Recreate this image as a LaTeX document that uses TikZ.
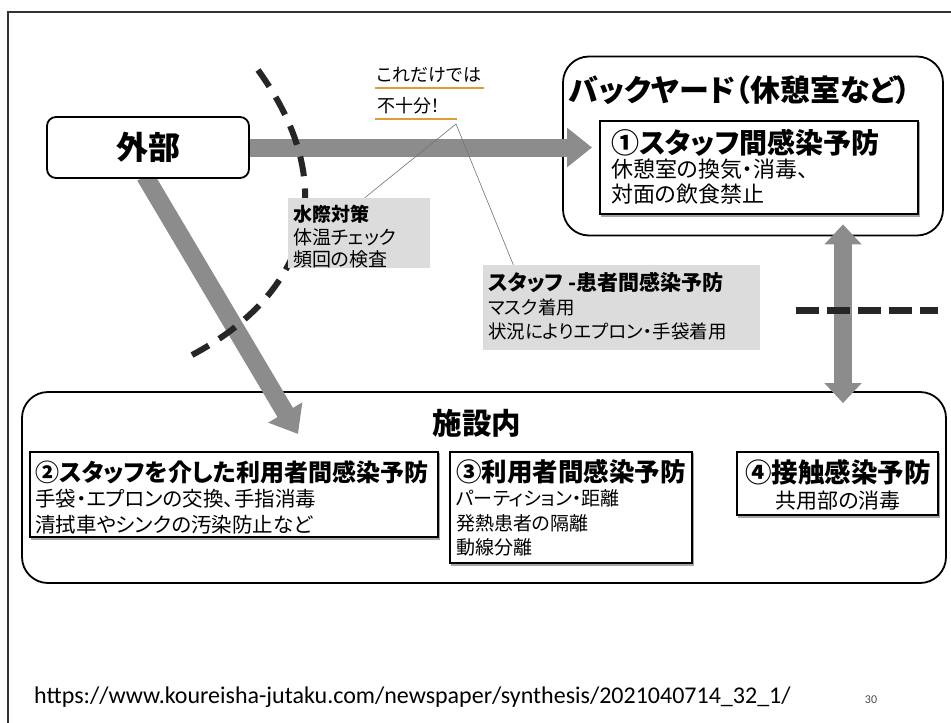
\documentclass[tikz,border=0pt]{standalone}
\usepackage{fontspec}
\setmainfont{Noto Sans CJK JP}[RawFeature=+palt]
\newfontfamily\urlfont{Carlito}
\usetikzlibrary{arrows.meta,calc}
\definecolor{arrowgrey}{HTML}{8C8C8C}
\definecolor{notegrey}{HTML}{DCDCDC}
\definecolor{uline}{HTML}{E09A3C}
\newcommand\fsz[2]{\fontsize{#1}{#2}\selectfont}
\begin{document}
\begin{tikzpicture}[x=1pt,y=-1pt,
  bigarrow/.style={draw=arrowgrey, line width=18pt, -{Triangle[width=38pt,length=25pt]}},
  boundary/.style={draw=black!85, line width=6pt, dash pattern=on 20pt off 12.3pt},
  roundbox/.style={draw, line width=1.8pt, fill=white},
  itembox/.style={draw, line width=1.5pt, fill=white},
  shadowed/.style={preaction={draw=black!35, line width=1.5pt, transform canvas={shift={(1.5pt,-1.8pt)}}}},
  notebox/.style={fill=notegrey, inner sep=0pt},
  txt/.style={anchor=north west, align=left, inner sep=0pt},
  leader/.style={draw=black!55, line width=0.6pt},
  ul/.style={draw=uline, line width=2.5pt}]
\fill[white] (0,0) rectangle (951,723);
\useasboundingbox (0,0) rectangle (951,723);
% page frame
\draw[line width=1.5pt, black!80] (8,723) -- (8,12) -- (951,12);

% boxes (backgrounds)
\node[roundbox, rounded corners=26pt, minimum width=380pt, minimum height=179pt] (back) at (753,146) {};
\node[roundbox, rounded corners=26pt, minimum width=924pt, minimum height=191pt] (shisetsu) at (484,487.5) {};

% arrows
\coordinate (htip) at (592,147.5);
\coordinate (dtip) at (298,434);
\coordinate (dstart) at (145,176);
\draw[bigarrow] (dstart) -- (dtip);
\node[roundbox, rounded corners=9pt, minimum width=202pt, minimum height=61pt] (gaibu) at (148,147.5) {\fsz{32}{34}\bfseries 外部};
\draw[bigarrow] (gaibu.east) -- (htip);
\draw[draw=arrowgrey, line width=18pt, {Triangle[width=36pt,length=20pt]}-{Triangle[width=36pt,length=20pt]}]
  ($(back.south)+(90,-12)$) -- ($(shisetsu.north)+(359,12)$);

% boundaries
\draw[boundary] (258,70) .. controls (345,190) and (305,295) .. (192,355);
\draw[boundary, line width=7pt, dash pattern=on 23pt off 8pt] (796,310) -- (938,310);

% backyard content
\node[anchor=west, inner sep=0pt] (backt) at (569,90) {\fsz{30}{32}\bfseries バックヤード（休憩室など）};
\node[itembox, shadowed, minimum width=318pt, minimum height=93pt] (b1) at (759,167.5) {};
\node[txt, font=\fsz{22}{25}] (b1t) at (611,129) {{\fsz{28}{30}\bfseries ①スタッフ間感染予防}\\[-1pt]
  休憩室の換気・消毒、\\ 対面の飲食禁止};

% "not enough" annotation
\node[anchor=south west, inner sep=0pt] (kore) at (377,83) {\fsz{18}{22}これだけでは};
\node[anchor=south west, inner sep=0pt] (fuju) at (377,114) {\fsz{18}{22}不十分！};
\draw[ul] ($(kore.south west)+(-2,5)$) -- ($(kore.south east)+(3,5)$);
\draw[ul] ($(fuju.south west)+(-2,5)$) -- ($(fuju.south west)+(80,5)$);
\coordinate (lead) at (456,124);

% note boxes
\node[notebox, minimum width=142pt, minimum height=70pt] (mizu) at (359,233) {};
\node[txt, font=\fsz{19}{22.5}] (mizut) at (293,205) {{\bfseries 水際対策}\\ 体温チェック\\ 頻回の検査};
\node[notebox, minimum width=277pt, minimum height=85pt] (staff) at (621.5,307.5) {};
\node[txt, font=\fsz{18.5}{24}] (stafft) at (488,272) {{\fsz{21}{24}\bfseries スタッフ -患者間感染予防}\\ マスク着用\\ 状況によりエプロン・手袋着用};
\draw[leader] (lead) -- ($(mizu.north west)!0.54!(mizu.north east)$);
\draw[leader] (lead) -- ($(staff.north west)!0.11!(staff.north east)$);

% facility content
\node[inner sep=0pt] (shit) at (477,423) {\fsz{29.5}{32}\bfseries 施設内};
\node[itembox, shadowed, minimum width=408pt, minimum height=85pt] (s2) at (234,494.5) {};
\node[txt, font=\fsz{20.5}{25.5}] (s2t) at (35,460) {{\fsz{24}{27}\bfseries ②スタッフを介した利用者間感染予防}\\
  手袋・エプロンの交換、手指消毒\\ 清拭車やシンクの汚染防止など};
\node[itembox, shadowed, minimum width=242pt, minimum height=111pt] (s3) at (571,507.5) {};
\node[txt, font=\fsz{19}{24.5}] (s3t) at (456,459) {{\fsz{25.5}{28}\bfseries ③利用者間感染予防}\\
  パーティション・距離\\ 発熱患者の隔離\\ 動線分離};
\node[itembox, shadowed, minimum width=201pt, minimum height=63pt] (s4) at (837.5,483.5) {};
\node[anchor=north, align=center, inner sep=0pt, font=\fsz{21}{26}] (s4t) at (838,459) {{\fsz{26.5}{28}\bfseries ④接触感染予防}\\ 共用部の消毒};

% footer
\node[anchor=west, inner sep=0pt] (url) at (34,697) {\urlfont\fsz{24}{26}https://www.koureisha-jutaku.com/newspaper/synthesis/2021040714\_32\_1/};
\node[inner sep=0pt, text=black!70] (pg) at (871,700) {\urlfont\fsz{12}{14}30};
\end{tikzpicture}
\end{document}
